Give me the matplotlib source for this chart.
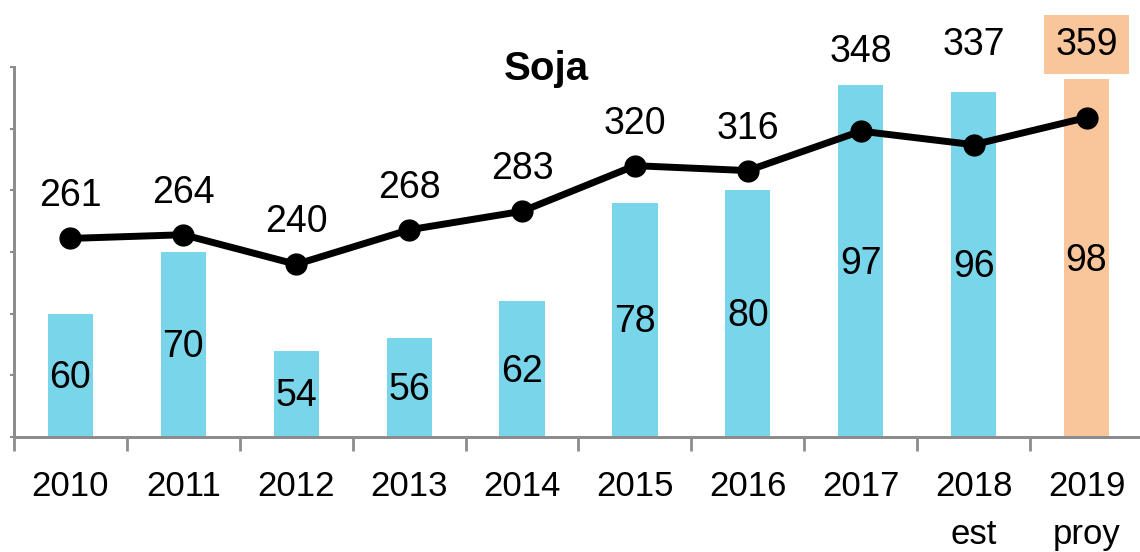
import matplotlib as mpl
import matplotlib.pyplot as plt
import numpy as np

mpl.rcParams['font.family'] = ['Liberation Sans', 'DejaVu Sans']

# data
years = ['2010', '2011', '2012', '2013', '2014', '2015', '2016', '2017', '2018\nest', '2019\nproy']
bar_values = [60, 70, 54, 56, 62, 78, 80, 97, 96, 98]
line_values = [261, 264, 240, 268, 283, 320, 316, 348, 337, 359]

blue = '#78D5EA'
orange = '#F9C69B'
gray = '#8C8C8C'

fig = plt.figure(figsize=(11.4, 5.52), dpi=100)
ax = fig.add_axes([14 / 1140, 1 - 437 / 552, 1129 / 1140, 370 / 552])
x = np.arange(len(years))

# bars (hidden scale 40..100)
colors = [blue] * (len(years) - 1) + [orange]
ax.bar(x, bar_values, width=0.4, bottom=0, color=colors, zorder=1)
ax.set_ylim(40, 100)
ax.set_xlim(-0.5, len(years) - 0.5)
for xi, v in zip(x, bar_values):
    ax.text(xi, (v + 40) / 2 - 0.4, str(v), ha='center', va='center', fontsize=27, zorder=3)

# line on twin axis, ticks shown on the left
ax2 = ax.twinx()
ax2.plot(x, line_values, color='black', lw=5, marker='o', ms=15, zorder=4)
ax2.set_ylim(100, 400)
ax2.set_yticks(np.arange(100, 401, 50))
ax2.yaxis.tick_left()
ax2.tick_params(axis='y', length=3, width=1.5, colors=gray, labelleft=False, labelright=False)

label_offsets = [42] * 7 + [79, 100, 73]  # px above point
for xi, v, off in zip(x, line_values, label_offsets):
    kw = {}
    if xi == len(years) - 1:
        kw['bbox'] = dict(boxstyle='square,pad=0.3', fc=orange, ec='none')
    ax2.annotate(str(v), (xi, v), xytext=(0, off * 0.72), textcoords='offset points',
                 ha='center', va='center', fontsize=27, **kw)

for a in (ax, ax2):
    for s in ('top', 'right'):
        a.spines[s].set_visible(False)
    a.spines['left'].set_color(gray)
    a.spines['left'].set_linewidth(2)
    a.spines['bottom'].set_color(gray)
    a.spines['bottom'].set_linewidth(2)
    a.set_facecolor('none')

ax.set_yticks([])
ax.set_xticks(x)
ax.set_xticklabels(years, fontsize=25, linespacing=1.55)
ax.tick_params(axis='x', which='major', length=0, pad=24)
ax.set_xticks(np.arange(-0.5, len(years)), minor=True)
ax.tick_params(axis='x', which='minor', length=10, width=2, colors=gray)

fig.text(546 / 1140, 1 - 80 / 552, 'Soja', ha='center', va='baseline',
         fontsize=29, fontweight='bold')

fig.savefig('out.png', dpi=100)
